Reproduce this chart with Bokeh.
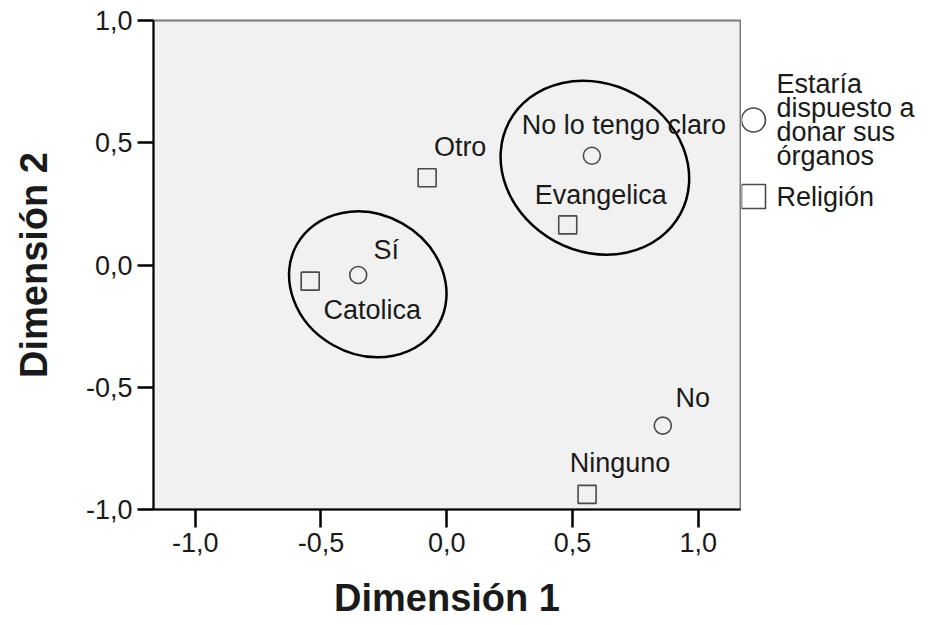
from bokeh.plotting import figure
from bokeh.models import ColumnDataSource, FixedTicker, Range1d
from bokeh.layouts import row
from bokeh.core.properties import value
from bokeh.embed import file_html
from bokeh.resources import INLINE

# Category quantifications (Dimensión 1, Dimensión 2)
donation_cats = ["No lo tengo claro", "Sí", "No"]
donation_dim1 = [0.577, -0.352, 0.859]
donation_dim2 = [0.447, -0.041, -0.657]

religion_cats = ["Otro", "Evangelica", "Catolica", "Ninguno"]
religion_dim1 = [-0.078, 0.481, -0.543, 0.558]
religion_dim2 = [0.357, 0.164, -0.066, -0.938]

axis_ticks = [-1.0, -0.5, 0.0, 0.5, 1.0]
axis_tick_labels = ["-1,0", "-0,5", "0,0", "0,5", "1,0"]

# Grouping ellipses: centre, full width, full height, tilt in degrees
group_x = [-0.314, 0.589]
group_y = [-0.079, 0.398]
group_w = [0.647, 0.773]
group_h = [0.573, 0.685]
group_angle = [-29.5, -28.4]

legend_labels = ["Estaría\ndispuesto a\ndonar sus\nórganos", "Religión"]

# ---- styling ----
FONT = value("Liberation Sans")
TEXT_COLOR = "#1a1a1a"
MARKER_LINE = "#4a4a4a"

# label placement relative to each point, in pixels
donation_dx = [32, 28, 30]
donation_dy = [-31, -25, -28]
religion_dx = [33, 33, 62, 33]
religion_dy = [-31, -30, 29, -31]

p = figure(
    width=741, height=625,
    x_range=Range1d(-1.166, 1.168), y_range=Range1d(-1.0, 1.0),
    output_backend="svg", toolbar_location=None,
    min_border_left=153, min_border_right=1,
    min_border_top=20, min_border_bottom=116,
)
p.background_fill_color = "#f1f1f1"
p.border_fill_color = "white"
p.outline_line_color = "#7a7a7a"
p.outline_line_width = 2
p.grid.visible = False

for ax, tick_len in ((p.xaxis, 18), (p.yaxis, 16)):
    ax.ticker = FixedTicker(ticks=axis_ticks)
    ax.major_label_overrides = dict(zip(axis_ticks, axis_tick_labels))
    ax.major_tick_out = tick_len
    ax.major_tick_in = 0
    ax.minor_tick_line_color = None
    ax.major_tick_line_width = 2.5
    ax.major_tick_line_color = "black"
    ax.axis_line_color = "black"
    ax.axis_line_width = 2
    ax.major_label_text_font = "Liberation Sans"
    ax.major_label_text_font_size = "27px"
    ax.major_label_text_color = TEXT_COLOR
    ax.major_label_standoff = 5
    ax.axis_label_text_font = "Liberation Sans"
    ax.axis_label_text_font_size = "38px"
    ax.axis_label_text_font_style = "bold"
    ax.axis_label_text_color = TEXT_COLOR
    ax.axis_label_text_line_height = 0.8

p.xaxis.axis_label = "Dimensión 1"
p.yaxis.axis_label = "Dimensión 2"
p.xaxis.axis_label_standoff = 22
p.yaxis.axis_label_standoff = 28

# grouping ellipses
p.ellipse(x=group_x, y=group_y, width=group_w, height=group_h,
          angle=group_angle, angle_units="deg",
          fill_color=None, line_color="black", line_width=2.5)

don_src = ColumnDataSource(dict(x=donation_dim1, y=donation_dim2, name=donation_cats,
                                dx=donation_dx, dy=donation_dy))
rel_src = ColumnDataSource(dict(x=religion_dim1, y=religion_dim2, name=religion_cats,
                                dx=religion_dx, dy=religion_dy))

p.scatter(x="x", y="y", source=don_src, marker="circle", size=17,
          fill_color=None, line_color=MARKER_LINE, line_width=1.6)
p.scatter(x="x", y="y", source=rel_src, marker="square", size=18,
          fill_color=None, line_color=MARKER_LINE, line_width=1.6)

for src in (don_src, rel_src):
    p.text(x="x", y="y", text="name", source=src, x_offset="dx", y_offset="dy",
           text_font=FONT, text_font_size="27px", text_color=TEXT_COLOR,
           text_align="center", text_baseline="middle")

# legend panel; its frame lines up with the main frame, coordinates are page pixels
leg = figure(width=187, height=625, x_range=Range1d(0, 187), y_range=Range1d(509, 20),
             x_axis_type=None, y_axis_type=None, output_backend="svg",
             toolbar_location=None, min_border=0)
leg.grid.visible = False
leg.outline_line_color = None
leg.background_fill_color = "white"
leg.border_fill_color = "white"

legend_marker_x = 12
legend_text_x = 35
legend_row_y = [119.5, 196]

leg.scatter(x=[legend_marker_x], y=[legend_row_y[0]], marker="circle", size=24,
            fill_color=None, line_color=MARKER_LINE, line_width=1.6)
leg.scatter(x=[legend_marker_x], y=[legend_row_y[1]], marker="square", size=24,
            fill_color=None, line_color=MARKER_LINE, line_width=1.6)
leg.text(x=[legend_text_x] * 2, y=legend_row_y, text=legend_labels,
         text_font=FONT, text_font_size="27px", text_color=TEXT_COLOR,
         text_align="left", text_baseline="middle", text_line_height=0.8)

layout = row(p, leg)
open("out.html", "w").write(file_html(layout, INLINE))
